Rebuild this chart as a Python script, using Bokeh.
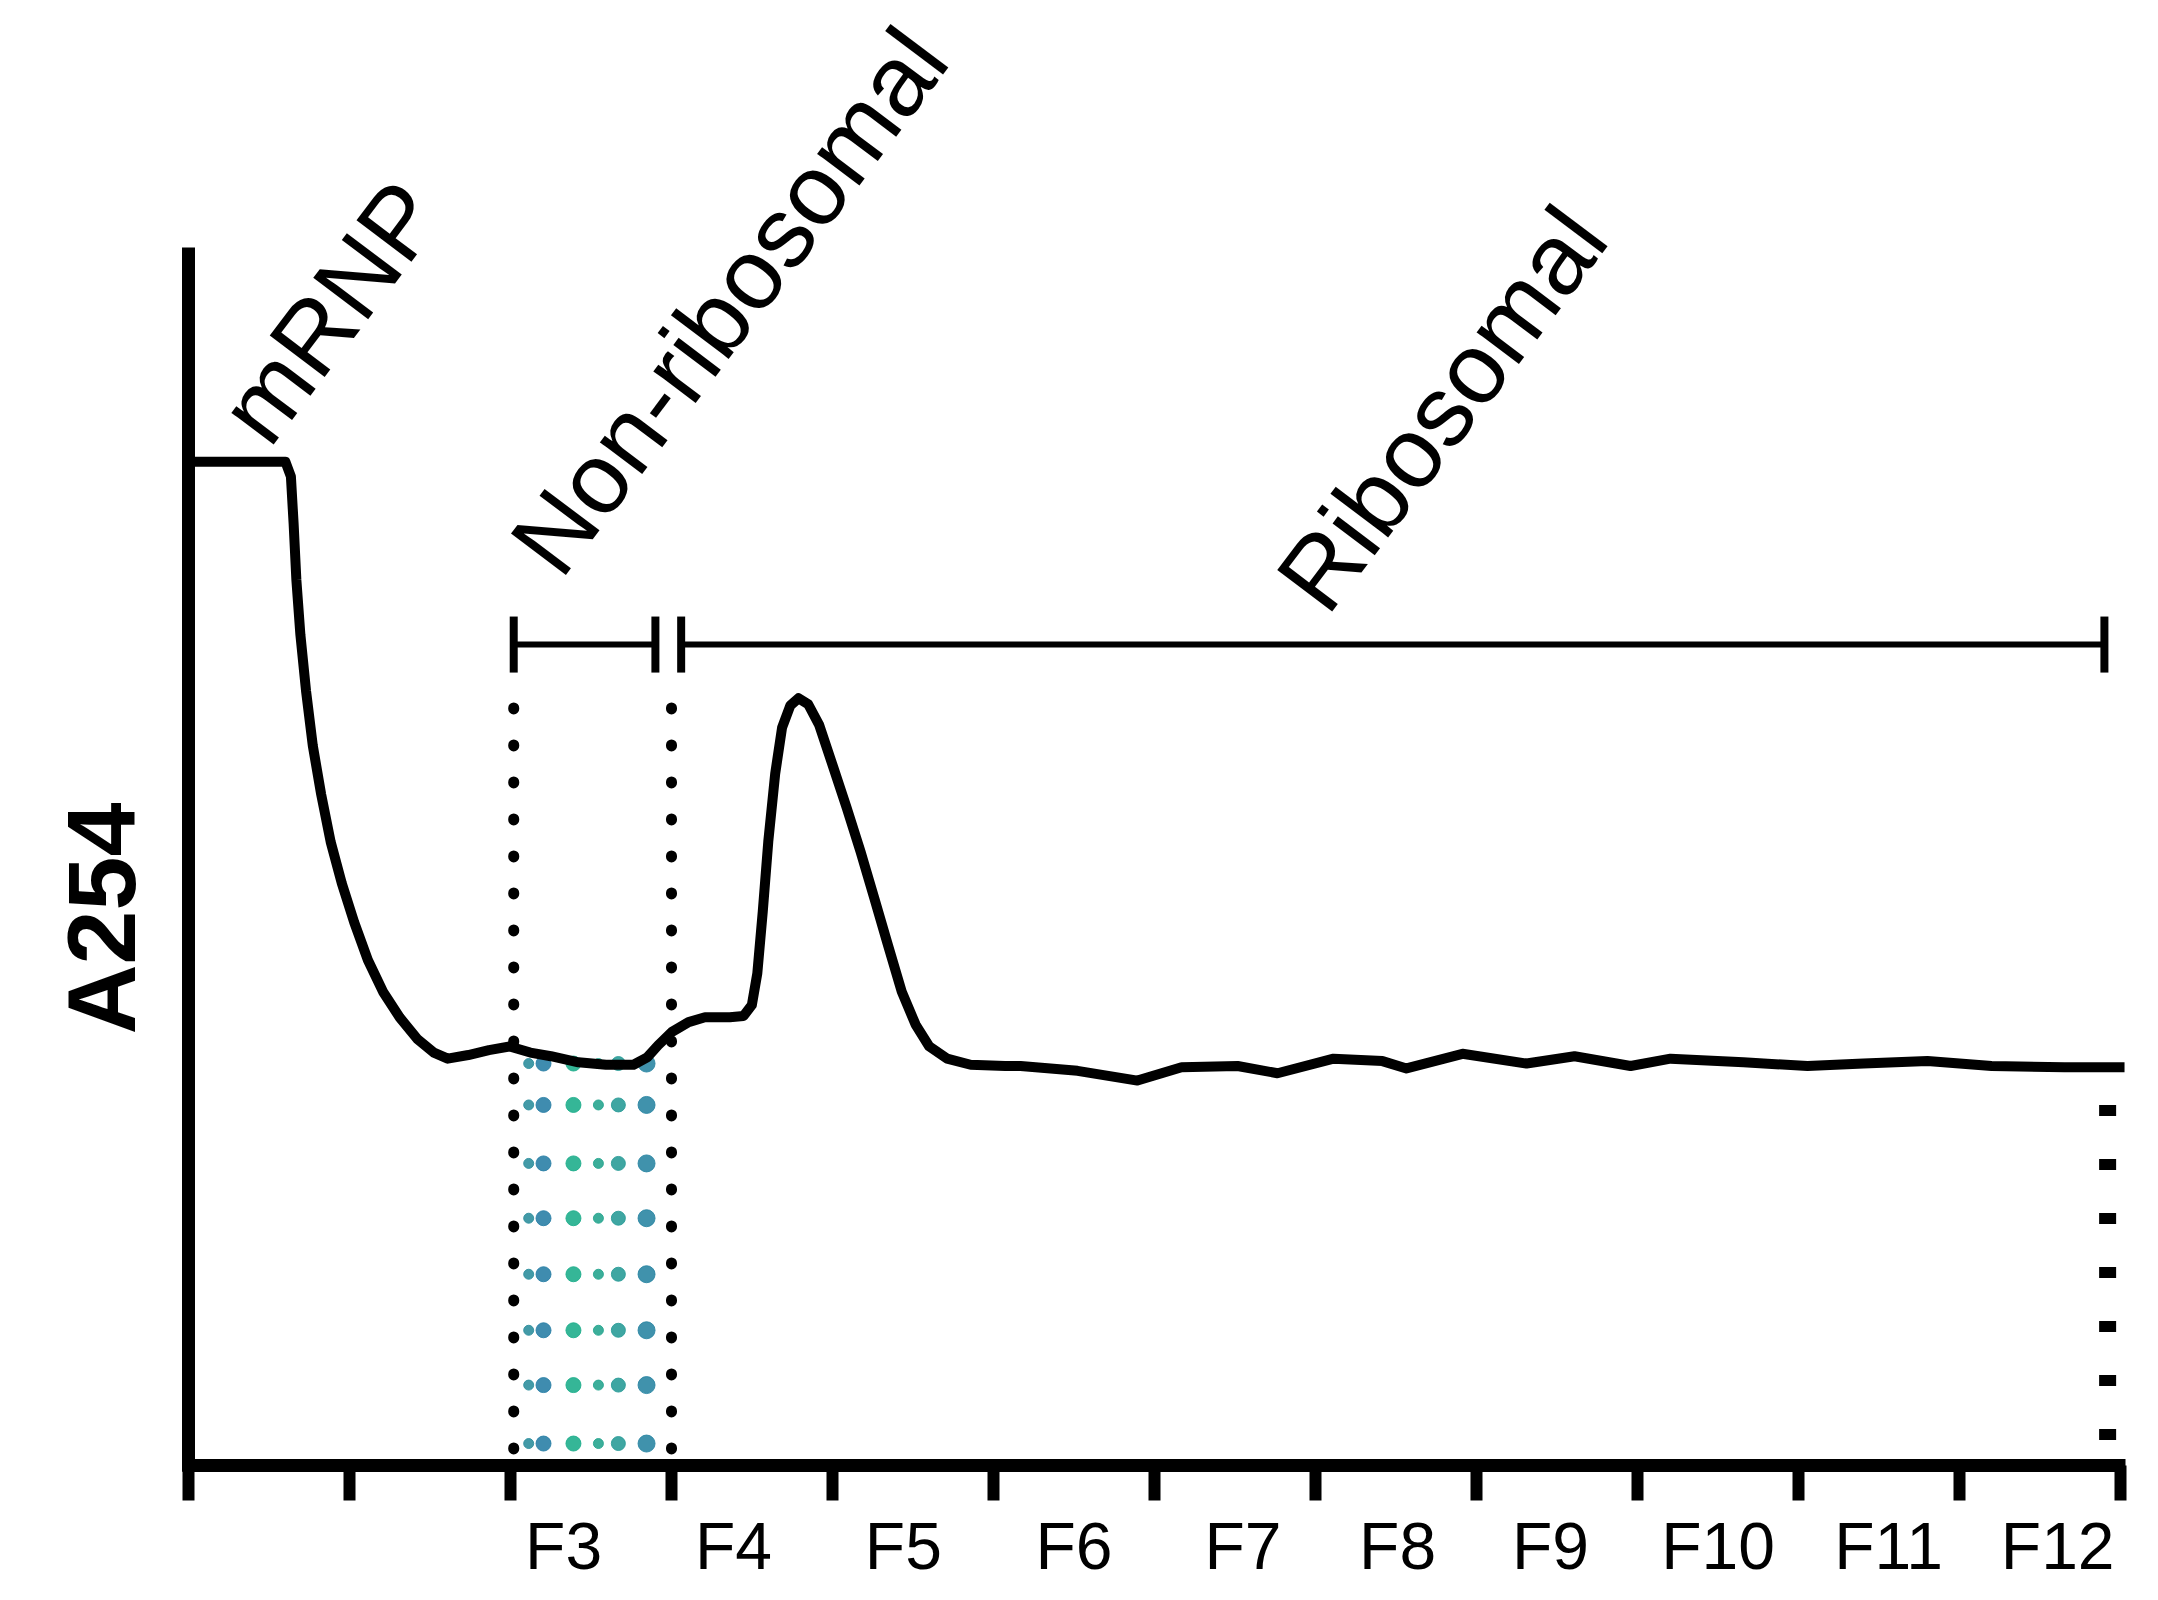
import numpy as np
from bokeh.plotting import figure
from bokeh.models import Label, FixedTicker, Range1d, ColumnDataSource
from bokeh.embed import file_html
from bokeh.resources import INLINE

# ---- data (x in fraction-axis units, y = A254 in arbitrary units) ----
trace_x = [0.0, 0.602, 0.636, 0.653, 0.670, 0.695, 0.730, 0.772, 0.824, 0.883,
           0.952, 1.029, 1.114, 1.208, 1.311, 1.422, 1.524, 1.610, 1.738, 1.866,
           1.995, 2.123, 2.251, 2.422, 2.593, 2.764, 2.849, 2.917, 3.003, 3.106,
           3.208, 3.362, 3.447, 3.499, 3.533, 3.567, 3.601, 3.644, 3.687, 3.738,
           3.789, 3.849, 3.917, 4.003, 4.088, 4.174, 4.259, 4.345, 4.430, 4.516,
           4.601, 4.712, 4.858, 5.072, 5.168, 5.522, 5.894, 6.168, 6.516, 6.764,
           7.112, 7.416, 7.565, 7.913, 8.311, 8.609, 8.957, 9.205, 9.658, 10.056,
           10.404, 10.801, 11.199, 11.652, 12.025]
trace_y = [0.824, 0.824, 0.812, 0.773, 0.727, 0.682, 0.636, 0.591, 0.551, 0.512,
           0.478, 0.446, 0.415, 0.389, 0.368, 0.350, 0.339, 0.334, 0.337, 0.341,
           0.344, 0.339, 0.336, 0.331, 0.329, 0.329, 0.335, 0.345, 0.356, 0.364,
           0.368, 0.368, 0.369, 0.378, 0.404, 0.455, 0.512, 0.568, 0.606, 0.624,
           0.630, 0.625, 0.608, 0.574, 0.540, 0.504, 0.466, 0.427, 0.389, 0.362,
           0.344, 0.334, 0.329, 0.328, 0.328, 0.324, 0.316, 0.327, 0.328, 0.322,
           0.334, 0.332, 0.326, 0.338, 0.330, 0.336, 0.328, 0.334, 0.331, 0.328,
           0.330, 0.332, 0.328, 0.327, 0.327]

axis_top = 1.0
tick_positions = list(range(13))
fraction_labels = ["F3", "F4", "F5", "F6", "F7", "F8", "F9", "F10", "F11", "F12"]
fraction_label_x = [2.33, 3.385, 4.44, 5.5, 6.55, 7.51, 8.46, 9.5, 10.56, 11.61]

region_names = ["Non-ribosomal", "Ribosomal"]
region_start = [2.02, 3.06]
region_end = [2.90, 11.90]
region_level = 0.674

mrnp_label = "mRNP"
y_label = "A254"

divider_x = [2.02, 3.0]
divider_top = [0.622, 0.622]
end_divider_x = [11.92]
end_divider_top = [0.296]

band_cols = [2.113, 2.205, 2.391, 2.546, 2.670, 2.845]
band_rows = [0.330, 0.296, 0.248, 0.203, 0.157, 0.111, 0.066, 0.018]
band_colors = ["#2f8f9d", "#2a7fa6", "#1fae8c", "#27a58f", "#2a9c98", "#2b86a3"]
band_sizes = [10, 15, 15, 10, 14, 17]

FONT = "Liberation Sans"
PX_W, PX_H = 2150, 1592

p = figure(width=PX_W, height=PX_H,
           x_range=Range1d(-1.1677, 12.1863), y_range=Range1d(-0.1043, 1.2028),
           output_backend="svg", toolbar_location=None,
           min_border_left=0, min_border_right=0,
           min_border_top=0, min_border_bottom=0)
p.outline_line_color = None
p.grid.visible = False
p.background_fill_color = "white"
p.border_fill_color = "white"

# x axis drawn at A254 = 0: ticks at fraction boundaries, labels between them
xa = p.xaxis[0]
xa.fixed_location = 0.0
xa.bounds = (-0.04, 12.03)
xa.ticker = FixedTicker(ticks=fraction_label_x, minor_ticks=tick_positions)
xa.major_label_overrides = {float(v): t for v, t in zip(fraction_label_x, fraction_labels)}
xa.axis_line_color = "black"
xa.axis_line_width = 13
xa.major_tick_line_color = None
xa.major_tick_out = 0
xa.major_tick_in = 0
xa.minor_tick_line_color = "black"
xa.minor_tick_line_width = 12
xa.minor_tick_out = 35
xa.minor_tick_in = 0
xa.major_label_text_font = FONT
xa.major_label_text_font_size = "66px"
xa.major_label_text_color = "black"
xa.major_label_standoff = 9

ya = p.yaxis[0]
ya.fixed_location = 0.0
ya.bounds = (-0.005, axis_top)
ya.ticker = FixedTicker(ticks=[])
ya.major_label_text_font_size = "0px"
ya.major_tick_line_color = None
ya.minor_tick_line_color = None
ya.axis_line_width = 13
ya.axis_line_color = "black"

# teal fraction dots
gx, gy = np.meshgrid(band_cols, band_rows)
gc = np.tile(band_colors, len(band_rows))
gs = np.tile(band_sizes, len(band_rows))
band_src = ColumnDataSource(dict(x=gx.ravel(), y=gy.ravel(), c=gc, s=gs))
p.scatter("x", "y", source=band_src, size="s", color="c", alpha=0.9, marker="circle")

# dotted fraction dividers
p.segment(x0=divider_x, y0=divider_top, x1=divider_x, y1=[0.01] * len(divider_x),
          line_color="black", line_width=11, line_dash="1 36", line_cap="round")
p.segment(x0=end_divider_x, y0=end_divider_top, x1=end_divider_x, y1=[0.01],
          line_color="black", line_width=17, line_dash="11 43", line_cap="butt")

# absorbance trace
p.line(trace_x, trace_y, line_color="black", line_width=10, line_join="round")

# region bars
p.segment(x0=region_start, y0=[region_level] * 2, x1=region_end, y1=[region_level] * 2,
          line_color="black", line_width=6)
cap_x = region_start + region_end
cap_h = 0.023
p.segment(x0=cap_x, y0=[region_level - cap_h] * 4, x1=cap_x, y1=[region_level + cap_h] * 4,
          line_color="black", line_width=8)

# rotated region labels
for txt, x, y in [(mrnp_label, 0.33, 0.851),
                  (region_names[0], 2.14, 0.743),
                  (region_names[1], 6.9, 0.713)]:
    p.add_layout(Label(x=x, y=y, text=txt, angle=53, angle_units="deg",
                       text_font=FONT, text_font_size="100px", text_color="black",
                       text_align="left", text_baseline="alphabetic"))

p.add_layout(Label(x=-0.54, y=0.449, text=y_label, angle=90, angle_units="deg",
                   text_font=FONT, text_font_size="97px", text_font_style="bold",
                   text_color="black", text_align="center", text_baseline="alphabetic"))

open("out.html", "w").write(file_html(p, INLINE))
